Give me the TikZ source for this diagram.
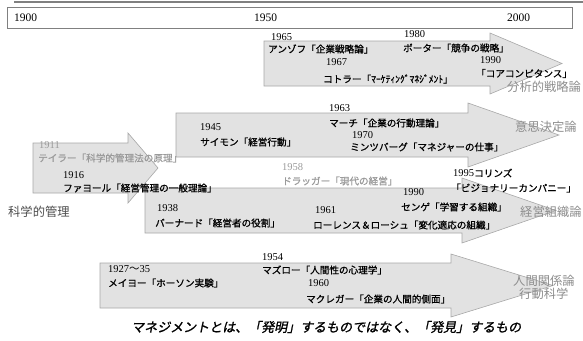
\documentclass[tikz,border=0pt]{standalone}
\usepackage{fontspec}
\setmainfont{Noto Sans CJK JP}
\newfontfamily\jpf{Noto Sans CJK JP}
\newfontfamily\jpbf[FakeBold=0.9]{Noto Sans CJK JP}
\newfontfamily\jpit[FakeSlant=0.2,FakeBold=1.2]{Noto Sans CJK JP}
\newfontfamily\serf{Liberation Serif}
\definecolor{arrfill}{HTML}{E2E2E2}
\definecolor{arrline}{HTML}{A8A8A8}
\definecolor{lblgray}{HTML}{8C8C8C}
\definecolor{oldgray}{HTML}{9A9A9A}
\definecolor{hdrline}{HTML}{808080}
\tikzset{
  blockarrow/.style={fill=arrfill, draw=arrline, line width=0.6pt, line join=miter},
  yr/.style={anchor=west, inner sep=0pt, font=\serf\fontsize{10.5}{12}\selectfont},
  hdr/.style={anchor=west, inner sep=0pt, font=\serf\fontsize{11.5}{13}\selectfont},
  jt/.style={anchor=west, inner sep=0pt, font=\jpbf\fontsize{9.6}{11}\selectfont},
  gl/.style={anchor=west, inner sep=0pt, font=\jpf\fontsize{12.3}{14}\selectfont, text=lblgray},
  old/.style={text=oldgray}
}
\begin{document}
\begin{tikzpicture}[x=1pt,y=-1pt]
\useasboundingbox (0,0) rectangle (583,340);
% header
\draw[hdrline, line width=1.6pt] (14,2) -- (583,2);
\draw[hdrline, line width=0.8pt] (7,7) rectangle (572,28);
\node[hdr] (h1900) at (14,17.5) {1900};
\node[hdr] (h1950) at (254,17.5) {1950};
\node[hdr] (h2000) at (507,17.5) {2000};
% block arrows
\path[blockarrow] (264,41) -- (490,41) -- (490,33) -- (562,63.5) -- (490,94) -- (490,86) -- (264,86) -- cycle;
\path[blockarrow] (176,113) -- (468,113) -- (468,103) -- (559,135) -- (468,167) -- (468,157) -- (176,157) -- cycle;
\path[blockarrow] (33,143) -- (128,143) -- (128,133) -- (158,168) -- (128,203) -- (128,193) -- (33,193) -- cycle;
\path[blockarrow] (145,188) -- (462,188) -- (462,178) -- (556,210.5) -- (462,243) -- (462,233) -- (145,233) -- cycle;
\path[blockarrow] (100,263) -- (451,263) -- (451,254) -- (553,285.5) -- (451,317) -- (451,308) -- (100,308) -- cycle;
% strategy
\node[yr] (y1965) at (271,37) {1965};
\node[jt] (ansoff) at (268,49) {アンゾフ「企業戦略論」};
\node[yr] (y1980) at (404,34) {1980};
\node[jt] (porter) at (403,48) {ポーター「競争の戦略」};
\node[yr] (y1967) at (326,62) {1967};
\node[jt] (kotler) at (323,79) {コトラー「ﾏｰｹﾃｨﾝｸﾞﾏﾈｼﾞﾒﾝﾄ」};
\node[yr] (y1990a) at (480,60) {1990};
\node[jt] (core) at (476,73.5) {「コアコンピタンス」};
\node[gl] (strat) at (507,87) {分析的戦略論};
% decision
\node[yr] (y1963) at (329,108) {1963};
\node[jt] (march) at (329,123) {マーチ「企業の行動理論」};
\node[yr] (y1945) at (200,127) {1945};
\node[jt] (simon) at (200,142) {サイモン「経営行動」};
\node[yr] (y1970) at (352,135) {1970};
\node[jt] (mintz) at (350,147) {ミンツバーグ「マネジャーの仕事」};
\node[gl] (decis) at (515,127) {意思決定論};
% scientific management
\node[yr, old] (y1911) at (39,145) {1911};
\node[jt, old] (taylor) at (38,158) {テイラー「科学的管理法の原理」};
\node[yr] (y1916) at (63,175) {1916};
\node[jt] (fayol) at (63,188) {ファヨール「経営管理の一般理論」};
\node[gl, text=black!70] (sci) at (8,212) {科学的管理};
% organization
\node[yr, old] (y1958) at (282,167) {1958};
\node[jt, old] (drucker) at (282,181) {ドラッガー「現代の経営」};
\node[jt] (collins) at (453,173) {{\serf\fontsize{10.5}{12}\selectfont 1995}コリンズ};
\node[jt] (vision) at (451,188) {「ビジョナリーカンパニー」};
\node[yr] (y1938) at (157,208) {1938};
\node[jt] (barnard) at (155,223) {バーナード「経営者の役割」};
\node[yr] (y1990b) at (403,192) {1990};
\node[jt] (senge) at (401,207) {センゲ「学習する組織」};
\node[yr] (y1961) at (315,210) {1961};
\node[jt] (lawrence) at (313,225) {ローレンス＆ローシュ「変化適応の組織」};
\node[gl] (org) at (520,212) {経営組織論};
% human relations
\node[yr] (y1927) at (108,269) {1927{\jpf ～}35};
\node[jt] (mayo) at (108,283) {メイヨー「ホーソン実験」};
\node[yr] (y1954) at (262,257) {1954};
\node[jt] (maslow) at (262,270) {マズロー「人間性の心理学」};
\node[yr] (y1960) at (308,283) {1960};
\node[jt] (mcgregor) at (306,299) {マクレガー「企業の人間的側面」};
\node[gl] (human) at (513,280.5) {人間関係論};
\node[gl] (behav) at (519,294) {行動科学};
% motto
\node[anchor=west, inner sep=0pt, font=\jpit\fontsize{13}{15}\selectfont] (motto) at (131,327) {マネジメントとは、「発明」するものではなく、「発見」するもの};
\end{tikzpicture}
\end{document}
